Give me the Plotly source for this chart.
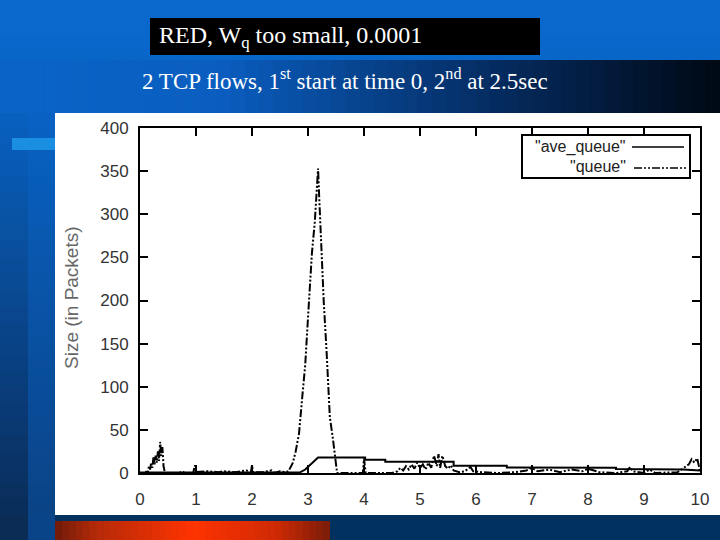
import plotly.graph_objects as go

# queue size: time (sec) / size (packets)
queue_t = [0.0, 0.1, 0.12, 0.14, 0.16, 0.18, 0.2, 0.22, 0.24, 0.26, 0.28, 0.3, 0.32, 0.34,
           0.36, 0.38, 0.4, 0.42, 0.44, 0.46,
           0.7, 0.75, 0.8, 0.95, 0.98, 1.0, 1.2, 1.4, 1.5, 1.7, 1.9, 1.98, 2.0, 2.02, 2.2,
           2.35, 2.4, 2.5, 2.6,
           2.65, 2.7, 2.73, 2.78, 2.84, 2.9, 2.95, 3.0, 3.04, 3.07, 3.12, 3.16, 3.18, 3.2,
           3.24, 3.28, 3.33, 3.37, 3.39, 3.44, 3.48, 3.52,
           3.6, 3.98, 4.0, 4.03, 4.5, 4.6, 4.65, 4.7, 4.75, 4.8, 4.85, 4.9, 4.95, 5.0, 5.05,
           5.1, 5.15, 5.2, 5.25, 5.3, 5.33, 5.36, 5.4, 5.45, 5.5, 5.55, 5.6, 5.7,
           5.8, 5.9, 5.95, 6.1, 6.4, 6.7, 6.9, 7.0, 7.1, 7.3, 7.5, 7.7, 7.9, 8.0, 8.2, 8.5,
           8.7, 8.75, 8.8, 9.0, 9.1, 9.2, 9.6, 9.7, 9.8, 9.85, 9.9, 9.95, 10.0]
queue_v = [0, 0, 3, 1, 8, 4, 12, 6, 18, 10, 20, 12, 25, 14,
           36, 20, 30, 8, 2, 0,
           0, 2, 0, 0, 9, 1, 2, 1, 2, 1, 3, 1, 9, 1, 1,
           3, 0, 2, 1,
           2, 8, 12, 25, 46, 90, 125, 180, 220, 255, 290, 330, 353, 320,
           258, 200, 143, 95, 65, 42, 20, 0,
           0, 0, 17, 0, 0, 2, 6, 3, 8, 4, 10, 5, 12, 6, 10,
           4, 12, 6, 20, 8, 22, 6, 20, 8, 5, 9, 3, 1,
           2, 7, 2, 1, 0, 1, 3, 6, 2, 4, 1, 4, 2, 5, 1, 0,
           2, 7, 2, 0, 4, 0, 1, 5, 10, 16, 12, 17, 2]

# average queue (RED ave_queue)
ave_t = [0.0, 2.85, 2.95, 3.05, 3.18, 4.02, 4.02, 4.38, 4.38, 5.6, 5.6, 6.55, 6.55,
         8.5, 8.5, 9.7, 10.0]
ave_v = [0.5, 0.5, 4, 10, 18, 18, 15.5, 15.5, 13, 13, 8.5, 8.5, 6.5,
         6, 4.5, 4, 3]

x_ticks = list(range(0, 11))
y_ticks = list(range(0, 401, 50))

# pixel frame of the plot area
L, R, T, B = 140, 700, 128, 473


def px(x):
    return (x - L) / (R - L)


def py(y):
    return (B - y) / (B - T)


def mix(c0, c1, f):
    a = [int(c0[i:i + 2], 16) for i in (1, 3, 5)]
    b = [int(c1[i:i + 2], 16) for i in (1, 3, 5)]
    return "#" + "".join("%02x" % round(a[k] + (b[k] - a[k]) * f) for k in range(3))


def color_at(stops, f):
    for (p0, c0), (p1, c1) in zip(stops, stops[1:]):
        if f <= p1:
            return mix(c0, c1, (f - p0) / (p1 - p0) if p1 > p0 else 0)
    return stops[-1][1]


shapes = []


def rect(x0, y0, x1, y1, color, layer="below", line=None):
    shapes.append(dict(type="rect", xref="paper", yref="paper",
                       x0=px(x0), x1=px(x1), y0=py(y1), y1=py(y0),
                       fillcolor=color, layer=layer,
                       line=line if line else dict(width=0)))


def grad(x0, y0, x1, y1, stops, n=40, horizontal=True):
    for i in range(n):
        f = (i + 0.5) / n
        c = color_at(stops, f)
        if horizontal:
            a = x0 + (x1 - x0) * i / n
            b = x0 + (x1 - x0) * (i + 1) / n + 0.6
            rect(a, y0, min(b, x1), y1, c)
        else:
            a = y0 + (y1 - y0) * i / n
            b = y0 + (y1 - y0) * (i + 1) / n + 0.6
            rect(x0, a, x1, min(b, y1), c)


# slide background
grad(0, 0, 720, 540, [(0, "#0a68cc"), (0.25, "#0863c6"), (1, "#073c7c")], n=30, horizontal=False)
grad(0, 113, 28, 515, [(0, "#0860c0"), (1, "#0a2d5a")], n=25, horizontal=False)
grad(28, 113, 55, 515, [(0, "#0862c4"), (1, "#0a4386")], n=25, horizontal=False)
grad(0, 60, 720, 113, [(0, "#0a64c8"), (0.3, "#0a5ec0"), (0.65, "#05306a"), (1, "#000814")], n=50)
rect(12, 138, 55, 150, "#1a8ee0")
rect(0, 515, 28, 540, "#0b2c55")
rect(28, 515, 55, 540, "#0a4488")
rect(55, 515, 720, 540, "#00315f")
grad(55, 521, 330, 540, [(0, "#6e1a0a"), (0.15, "#b52a08"), (0.5, "#ff3300"),
                         (0.8, "#d02a04"), (1, "#7a1c08")], n=40)
rect(55, 113, 720, 515, "white")
rect(150, 18, 540, 55, "black")

# legend box drawn like the gnuplot key
rect(522, 135, 690, 178, "white", layer="above", line=dict(color="black", width=2))
queue_dash = "8px,2px,2px,2px,2px,2px"
shapes.append(dict(type="line", xref="paper", yref="paper",
                   x0=px(632), x1=px(684), y0=py(147), y1=py(147),
                   line=dict(color="black", width=1.5)))
shapes.append(dict(type="line", xref="paper", yref="paper",
                   x0=px(634), x1=px(686), y0=py(168), y1=py(168),
                   line=dict(color="black", width=1.5, dash=queue_dash)))

fig = go.Figure()
fig.add_trace(go.Scatter(x=ave_t, y=ave_v, mode="lines", name='"ave_queue"',
                         line=dict(color="black", width=2)))
fig.add_trace(go.Scatter(x=queue_t, y=queue_v, mode="lines", name='"queue"',
                         line=dict(color="black", width=2, dash=queue_dash)))

tick_font = dict(family="Liberation Sans, Arial, sans-serif", size=17, color="#333333")
axis_common = dict(showline=True, linecolor="black", linewidth=2, mirror="ticks",
                   ticks="inside", ticklen=8, tickwidth=1.5, tickcolor="black",
                   showgrid=False, zeroline=False, tickfont=tick_font)

annotations = [
    dict(x=px(157), y=py(37), text="RED, W<sub>q</sub> too small, 0.0001",
         xanchor="left", yanchor="middle", showarrow=False,
         font=dict(family="Liberation Serif, Times New Roman, serif", size=24, color="white")),
    dict(x=px(140), y=py(80),
         text="2 TCP flows, 1<sup>st</sup> start at time 0, 2<sup>nd</sup> at 2.5sec",
         xanchor="left", yanchor="middle", showarrow=False,
         font=dict(family="Liberation Serif, Times New Roman, serif", size=23, color="white")),
    dict(x=px(71), y=py(298), text="Size (in Packets)", textangle=-90,
         xanchor="center", yanchor="middle", showarrow=False,
         font=dict(family="Liberation Sans, Arial, sans-serif", size=19, color="#666666")),
    dict(x=px(628), y=py(147), text='"ave_queue"', xanchor="right", yanchor="middle",
         showarrow=False, font=dict(family="Liberation Sans, Arial, sans-serif", size=16, color="#222222")),
    dict(x=px(628), y=py(166), text='"queue"', xanchor="right", yanchor="middle",
         showarrow=False, font=dict(family="Liberation Sans, Arial, sans-serif", size=16, color="#222222")),
]
for a in annotations:
    a.update(xref="paper", yref="paper")

fig.update_layout(
    width=720, height=540, autosize=False,
    margin=dict(l=L, r=720 - R, t=T, b=540 - B, pad=0),
    paper_bgcolor="#0a5fc0", plot_bgcolor="rgba(0,0,0,0)",
    showlegend=False,
    shapes=shapes, annotations=annotations,
    xaxis=dict(range=[0, 10], tickvals=x_ticks, ticklabelstandoff=10, **axis_common),
    yaxis=dict(range=[0, 400], tickvals=y_ticks, ticklabelstandoff=6, **axis_common),
)

# page margin would push the slide 8px off the window
fig.write_html("out.html", config={"displayModeBar": False},
               post_script="document.body.style.margin='0';document.body.style.overflow='hidden';")
